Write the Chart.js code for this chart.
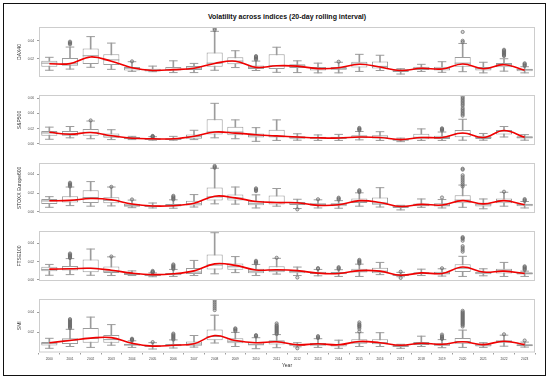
<!DOCTYPE html>
<html>
<head>
<meta charset="utf-8">
<script src="https://cdn.jsdelivr.net/npm/chart.js@4.4.1/dist/chart.umd.min.js"></script>
<style>
  html,body{margin:0;padding:0;background:#fff;}
  #wrap{position:relative;width:550px;height:381px;overflow:hidden;background:#fff;font-family:"Liberation Sans",Arial,sans-serif;}
  #frame{position:absolute;left:3px;top:3px;width:543px;height:373px;box-sizing:border-box;border:1.5px solid #111;}
  #title{position:absolute;left:39px;top:12.5px;width:496px;text-align:center;font-weight:bold;font-size:7px;line-height:8px;color:#111;}
  canvas{position:absolute;left:0;}
</style>
</head>
<body>
<div id="wrap">
  <div id="frame"></div>
  <div id="title">Volatility across indices (20-day rolling interval)</div>
  <canvas id="c0" width="545" height="68" style="top:18px"></canvas>
  <canvas id="c1" width="545" height="68" style="top:86px"></canvas>
  <canvas id="c2" width="545" height="68" style="top:154px"></canvas>
  <canvas id="c3" width="545" height="68" style="top:222px"></canvas>
  <canvas id="c4" width="545" height="83" style="top:290px"></canvas>
</div>
<script>
const years = ['2000','2001','2002','2003','2004','2005','2006','2007','2008','2009','2010','2011','2012','2013','2014','2015','2016','2017','2018','2019','2020','2021','2022','2023'];

// ---- DAX40 ----
const daxLow  = [0.0072,0.0085,0.0105,0.0082,0.0060,0.0056,0.0046,0.0046,0.0072,0.0102,0.0069,0.0049,0.0046,0.0043,0.0043,0.0059,0.0069,0.0030,0.0059,0.0049,0.0056,0.0043,0.0062,0.0043];
const daxQ1   = [0.0111,0.0121,0.0141,0.0131,0.0069,0.0059,0.0069,0.0075,0.0111,0.0138,0.0085,0.0085,0.0098,0.0069,0.0079,0.0102,0.0092,0.0052,0.0075,0.0069,0.0111,0.0069,0.0105,0.0062];
const daxMed  = [0.0151,0.0144,0.0233,0.0187,0.0095,0.0072,0.0082,0.0095,0.0151,0.0174,0.0105,0.0121,0.0121,0.0089,0.0089,0.0141,0.0115,0.0066,0.0095,0.0089,0.0151,0.0089,0.0138,0.0079];
const daxQ3   = [0.0177,0.0207,0.0315,0.0249,0.0108,0.0089,0.0108,0.0118,0.0269,0.0216,0.0125,0.0249,0.0138,0.0108,0.0108,0.0167,0.0170,0.0082,0.0111,0.0111,0.0220,0.0108,0.0154,0.0089];
const daxHigh = [0.0216,0.0330,0.0446,0.0374,0.0167,0.0118,0.0177,0.0148,0.0505,0.0289,0.0174,0.0328,0.0177,0.0151,0.0161,0.0249,0.0239,0.0089,0.0138,0.0167,0.0370,0.0161,0.0200,0.0111];
const daxSmooth = [0.0144,0.0146,0.0220,0.0172,0.0100,0.0070,0.0079,0.0095,0.0148,0.0173,0.0104,0.0122,0.0118,0.0090,0.0100,0.0138,0.0108,0.0069,0.0094,0.0086,0.0141,0.0089,0.0134,0.0072];
const daxOut = [['2001',0.036],['2001',0.037],['2001',0.038],['2001',0.039],['2004',0.0171],['2008',0.052],['2008',0.0535],
  ['2010',0.019],['2010',0.020],['2010',0.021],['2010',0.022],['2010',0.023],['2014',0.0167],
  ['2020',0.0498],['2020',0.0400],['2020',0.0385],
  ['2022',0.023],['2022',0.024],['2022',0.025],['2022',0.026],['2022',0.027],['2022',0.028],['2022',0.029],['2022',0.030],
  ['2023',0.012],['2023',0.013],['2023',0.014],['2023',0.015]];
const daxTicks = [0.02,0.04];

// ---- S&P500 ----
const spLow  = [0.0061,0.0080,0.0068,0.0057,0.0057,0.0049,0.0049,0.0057,0.0080,0.0068,0.0034,0.0046,0.0049,0.0046,0.0046,0.0053,0.0046,0.0030,0.0046,0.0046,0.0049,0.0049,0.0091,0.0049];
const spQ1   = [0.0106,0.0106,0.0106,0.0080,0.0061,0.0053,0.0053,0.0068,0.0122,0.0114,0.0084,0.0084,0.0068,0.0068,0.0065,0.0076,0.0072,0.0042,0.0061,0.0065,0.0087,0.0065,0.0125,0.0072];
const spMed  = [0.0144,0.0133,0.0152,0.0106,0.0072,0.0065,0.0061,0.0095,0.0156,0.0156,0.0106,0.0103,0.0087,0.0076,0.0080,0.0091,0.0087,0.0053,0.0087,0.0084,0.0137,0.0084,0.0167,0.0087];
const spQ3   = [0.0171,0.0171,0.0194,0.0137,0.0091,0.0076,0.0076,0.0125,0.0323,0.0224,0.0137,0.0186,0.0099,0.0095,0.0095,0.0114,0.0114,0.0068,0.0133,0.0106,0.0182,0.0106,0.0182,0.0099];
const spHigh = [0.0220,0.0228,0.0300,0.0186,0.0099,0.0095,0.0099,0.0179,0.0532,0.0315,0.0213,0.0315,0.0133,0.0118,0.0125,0.0163,0.0160,0.0076,0.0197,0.0156,0.0323,0.0137,0.0228,0.0122];
const spSmooth = [0.0152,0.0126,0.0150,0.0108,0.0074,0.0067,0.0067,0.0100,0.0156,0.0142,0.0121,0.0105,0.0091,0.0080,0.0077,0.0091,0.0084,0.0057,0.0084,0.0084,0.0144,0.0084,0.0175,0.0087];
const spOut = [['2002',0.0308],['2005',0.0090],['2005',0.0095],['2005',0.0100],['2005',0.0105],
  ['2015',0.018],['2015',0.019],['2015',0.020],['2015',0.021],
  ['2019',0.0175],['2019',0.0185],['2019',0.0195],['2019',0.0205],
  ['2020',0.037],['2020',0.039],['2020',0.041],['2020',0.043],['2020',0.045],['2020',0.047],['2020',0.050],['2020',0.052],['2020',0.054],['2020',0.056],['2020',0.058],['2020',0.060],['2020',0.062]];
const spTicks = [0.00,0.02,0.04,0.06];

// ---- STOXX Europe600 ----
const sxLow  = [0.0047,0.0065,0.0059,0.0062,0.0043,0.0040,0.0037,0.0050,0.0084,0.0081,0.0040,0.0059,0.0034,0.0040,0.0037,0.0059,0.0050,0.0019,0.0047,0.0040,0.0047,0.0031,0.0059,0.0040];
const sxQ1   = [0.0081,0.0099,0.0093,0.0090,0.0053,0.0050,0.0056,0.0065,0.0121,0.0121,0.0068,0.0078,0.0071,0.0065,0.0059,0.0093,0.0074,0.0040,0.0059,0.0056,0.0090,0.0056,0.0090,0.0059];
const sxMed  = [0.0115,0.0121,0.0152,0.0121,0.0068,0.0056,0.0068,0.0084,0.0158,0.0146,0.0090,0.0099,0.0093,0.0074,0.0078,0.0112,0.0093,0.0053,0.0071,0.0068,0.0124,0.0074,0.0118,0.0074];
const sxQ3   = [0.0136,0.0164,0.0229,0.0155,0.0084,0.0068,0.0081,0.0118,0.0260,0.0183,0.0118,0.0174,0.0105,0.0090,0.0090,0.0140,0.0152,0.0065,0.0087,0.0090,0.0177,0.0090,0.0140,0.0084];
const sxHigh = [0.0161,0.0264,0.0322,0.0264,0.0124,0.0093,0.0127,0.0183,0.0465,0.0264,0.0180,0.0248,0.0133,0.0127,0.0118,0.0202,0.0257,0.0068,0.0136,0.0130,0.0285,0.0136,0.0208,0.0109];
const sxSmooth = [0.0117,0.0121,0.0141,0.0128,0.0082,0.0061,0.0064,0.0090,0.0166,0.0148,0.0109,0.0098,0.0096,0.0068,0.0074,0.0118,0.0099,0.0056,0.0078,0.0071,0.0118,0.0084,0.0118,0.0074];
const sxOut = [['2001',0.027],['2001',0.028],['2001',0.029],['2001',0.030],['2001',0.031],['2003',0.0266],['2004',0.0131],
  ['2006',0.013],['2006',0.014],['2006',0.015],['2006',0.016],['2006',0.017],
  ['2008',0.047],['2008',0.048],['2008',0.049],
  ['2010',0.022],['2010',0.023],['2010',0.024],['2010',0.025],['2012',0.0025],['2013',0.0133],
  ['2014',0.013],['2014',0.014],['2014',0.015],['2015',0.021],['2015',0.022],['2015',0.023],['2019',0.0152],
  ['2020',0.045],['2020',0.046],['2020',0.027],['2020',0.029],['2020',0.031],['2020',0.033],['2020',0.035],['2020',0.037],['2020',0.039],
  ['2022',0.0214],['2023',0.0115],['2023',0.0125],['2023',0.0135]];
const sxTicks = [0.00,0.02,0.04];

// ---- FTSE100 ----
const ftLow  = [0.0051,0.0058,0.0051,0.0048,0.0048,0.0035,0.0038,0.0048,0.0067,0.0080,0.0048,0.0064,0.0048,0.0045,0.0038,0.0038,0.0058,0.0035,0.0048,0.0042,0.0038,0.0045,0.0038,0.0038];
const ftQ1   = [0.0096,0.0102,0.0083,0.0077,0.0054,0.0042,0.0051,0.0064,0.0115,0.0112,0.0074,0.0083,0.0074,0.0064,0.0061,0.0080,0.0074,0.0042,0.0061,0.0058,0.0086,0.0061,0.0070,0.0058];
const ftMed  = [0.0115,0.0122,0.0128,0.0096,0.0064,0.0048,0.0064,0.0086,0.0163,0.0144,0.0096,0.0102,0.0093,0.0074,0.0074,0.0096,0.0096,0.0051,0.0070,0.0074,0.0128,0.0077,0.0099,0.0070];
const ftQ3   = [0.0144,0.0154,0.0224,0.0147,0.0077,0.0054,0.0077,0.0131,0.0278,0.0179,0.0122,0.0150,0.0102,0.0090,0.0086,0.0122,0.0134,0.0064,0.0083,0.0090,0.0173,0.0090,0.0122,0.0083];
const ftHigh = [0.0170,0.0234,0.0339,0.0253,0.0099,0.0077,0.0115,0.0214,0.0518,0.0256,0.0170,0.0237,0.0141,0.0115,0.0112,0.0173,0.0192,0.0083,0.0118,0.0122,0.0259,0.0122,0.0192,0.0096];
const ftSmooth = [0.0118,0.0122,0.0128,0.0106,0.0074,0.0058,0.0067,0.0099,0.0176,0.0160,0.0109,0.0112,0.0102,0.0074,0.0070,0.0102,0.0096,0.0051,0.0077,0.0070,0.0141,0.0086,0.0096,0.0070];
const ftOut = [['2001',0.024],['2001',0.025],['2001',0.026],['2001',0.027],['2001',0.028],['2001',0.029],['2003',0.0257],
  ['2005',0.0080],['2005',0.0085],['2005',0.0090],['2005',0.0099],
  ['2006',0.012],['2006',0.013],['2006',0.014],['2006',0.015],['2006',0.016],['2006',0.017],
  ['2010',0.018],['2010',0.019],['2010',0.020],['2010',0.021],['2011',0.0243],['2012',0.0026],
  ['2013',0.012],['2013',0.013],['2014',0.012],['2014',0.013],['2014',0.014],
  ['2015',0.018],['2015',0.019],['2015',0.020],['2015',0.021],['2015',0.022],['2017',0.0090],['2017',0.0022],['2019',0.0128],
  ['2020',0.043],['2020',0.045],['2020',0.046],['2020',0.047],['2020',0.031],['2020',0.033],['2020',0.035],['2020',0.037],
  ['2023',0.011],['2023',0.012],['2023',0.013],['2023',0.014],['2023',0.015]];
const ftTicks = [0.00,0.02,0.04];

// ---- SMI ----
const smLow  = [0.0038,0.0056,0.0047,0.0069,0.0047,0.0031,0.0041,0.0050,0.0091,0.0056,0.0034,0.0044,0.0053,0.0047,0.0038,0.0056,0.0056,0.0038,0.0056,0.0044,0.0047,0.0047,0.0059,0.0050];
const smQ1   = [0.0066,0.0081,0.0094,0.0094,0.0063,0.0050,0.0059,0.0063,0.0119,0.0088,0.0066,0.0075,0.0063,0.0063,0.0056,0.0084,0.0078,0.0050,0.0072,0.0063,0.0084,0.0056,0.0094,0.0059];
const smMed  = [0.0088,0.0119,0.0138,0.0125,0.0075,0.0056,0.0069,0.0081,0.0156,0.0109,0.0078,0.0103,0.0072,0.0078,0.0072,0.0100,0.0094,0.0059,0.0088,0.0072,0.0106,0.0069,0.0106,0.0069];
const smQ3   = [0.0100,0.0138,0.0240,0.0172,0.0084,0.0069,0.0081,0.0106,0.0225,0.0138,0.0100,0.0119,0.0081,0.0091,0.0081,0.0128,0.0128,0.0072,0.0100,0.0088,0.0141,0.0084,0.0119,0.0078];
const smHigh = [0.0138,0.0228,0.0350,0.0275,0.0113,0.0094,0.0122,0.0166,0.0369,0.0197,0.0144,0.0175,0.0094,0.0134,0.0119,0.0194,0.0194,0.0078,0.0159,0.0125,0.0220,0.0094,0.0169,0.0100];
const smSmooth = [0.0094,0.0116,0.0140,0.0145,0.0088,0.0060,0.0069,0.0084,0.0166,0.0116,0.0094,0.0103,0.0073,0.0083,0.0073,0.0106,0.0094,0.0069,0.0088,0.0078,0.0103,0.0075,0.0109,0.0075];
const smOut = [['2001',0.024],['2001',0.025],['2001',0.026],['2001',0.027],['2001',0.028],['2001',0.029],['2001',0.030],['2001',0.031],['2001',0.032],['2001',0.033],
  ['2004',0.0116],['2004',0.0122],['2004',0.0128],['2004',0.0134],['2005',0.0100],
  ['2006',0.0125],['2006',0.0135],['2006',0.0145],['2006',0.0155],['2006',0.0165],['2006',0.0175],['2006',0.0185],
  ['2008',0.042],['2008',0.044],['2008',0.046],['2008',0.048],['2008',0.050],['2008',0.052],
  ['2009',0.021],['2009',0.022],['2009',0.023],['2009',0.0238],['2010',0.0156],['2010',0.0163],['2010',0.0170],
  ['2011',0.018],['2011',0.019],['2011',0.020],['2011',0.021],['2011',0.022],['2011',0.023],['2011',0.024],['2011',0.025],['2011',0.026],['2011',0.027],['2011',0.0287],
  ['2012',0.0038],['2013',0.014],['2013',0.015],['2013',0.016],
  ['2015',0.0206],['2015',0.0234],['2015',0.025],['2015',0.026],['2015',0.027],['2015',0.028],['2015',0.0297],
  ['2019',0.0131],['2019',0.014],['2019',0.015],['2019',0.016],['2019',0.0175],
  ['2020',0.0256],['2020',0.027],['2020',0.028],['2020',0.029],['2020',0.030],['2020',0.031],['2020',0.032],['2020',0.033],['2020',0.034],['2020',0.035],['2020',0.036],['2020',0.037],['2020',0.038],['2020',0.039],['2020',0.040],['2020',0.0413],
  ['2022',0.0178],['2023',0.0116]];
const smTicks = [0.02,0.04];

const panels = [
  {id:'c0', name:'DAX40', low:daxLow, q1:daxQ1, med:daxMed, q3:daxQ3, high:daxHigh, smooth:daxSmooth, out:daxOut, ticks:daxTicks, min:-0.0003, max:0.0553},
  {id:'c1', name:'S&P500', low:spLow, q1:spQ1, med:spMed, q3:spQ3, high:spHigh, smooth:spSmooth, out:spOut, ticks:spTicks, min:-0.0014, max:0.0641},
  {id:'c2', name:'STOXX Europe600', low:sxLow, q1:sxQ1, med:sxMed, q3:sxQ3, high:sxHigh, smooth:sxSmooth, out:sxOut, ticks:sxTicks, min:-0.0014, max:0.0521},
  {id:'c3', name:'FTSE100', low:ftLow, q1:ftQ1, med:ftMed, q3:ftQ3, high:ftHigh, smooth:ftSmooth, out:ftOut, ticks:ftTicks, min:-0.0012, max:0.0537},
  {id:'c4', name:'SMI', low:smLow, q1:smQ1, med:smMed, q3:smQ3, high:smHigh, smooth:smSmooth, out:smOut, ticks:smTicks, min:-0.0004, max:0.0531}
];

const FONT = '"Liberation Sans", Arial, sans-serif';
const GRAY = '#9c9c9c';

const framePlugin = {
  id: 'frame',
  afterDatasetsDraw(chart) {
    const {ctx, chartArea: a} = chart;
    ctx.save();
    ctx.strokeStyle = '#cdcdcd';
    ctx.lineWidth = 1;
    ctx.strokeRect(a.left + 0.5, a.top + 0.5, a.right - a.left - 1, a.bottom - a.top - 1);
    ctx.restore();
  }
};

panels.forEach((p, idx) => {
  const bottom = idx === panels.length - 1;
  const datasets = [
    {type:'line', data:p.smooth, borderColor:'#f00000', borderWidth:1.6, pointRadius:0, tension:0.4, order:0},
    {type:'line', data:p.out.map(([x,y]) => ({x, y})), showLine:false, pointStyle:'circle', pointRadius:1.6,
      pointBorderColor:'#666666', pointBackgroundColor:'rgba(120,120,120,0.3)', pointBorderWidth:0.7, order:1},
    {type:'line', data:p.med, showLine:false, pointStyle:'line', pointRadius:8, pointBorderColor:GRAY, pointBorderWidth:1, order:2},
    {type:'line', data:p.high, showLine:false, pointStyle:'line', pointRadius:4.3, pointBorderColor:GRAY, pointBorderWidth:1, order:2},
    {type:'line', data:p.low, showLine:false, pointStyle:'line', pointRadius:4.3, pointBorderColor:GRAY, pointBorderWidth:1, order:2},
    {type:'bar', data:p.q1.map((v,i) => [v, p.q3[i]]), backgroundColor:'#ffffff', borderColor:GRAY, borderWidth:1,
      borderSkipped:false, grouped:false, barPercentage:0.78, categoryPercentage:1, order:3},
    {type:'bar', data:p.low.map((v,i) => [v, p.high[i]]), backgroundColor:GRAY, barThickness:1, grouped:false, order:4}
  ];
  new Chart(document.getElementById(p.id), {
    type: 'bar',
    data: {labels: years, datasets},
    plugins: [framePlugin],
    options: {
      responsive: false,
      animation: false,
      events: [],
      layout: {padding: {top:5, bottom: bottom ? 0 : 5.5, left:0, right:10}},
      plugins: {legend:{display:false}, tooltip:{enabled:false}, title:{display:false}},
      scales: {
        x: {
          type:'category', offset:true, display: bottom,
          grid: {display:true, drawOnChartArea:false, drawTicks:true, tickLength:2, color:GRAY},
          border: {display:false},
          ticks: {font:{size:3.2, family:FONT}, color:'#444', padding:3, autoSkip:false, maxRotation:0},
          title: {display: bottom, text:'Year', font:{size:5, family:FONT}, color:'#333', padding:{top:0, bottom:4}},
          afterFit: (s) => { s.height = bottom ? 20.5 : 0; }
        },
        y: {
          type:'linear', min:p.min, max:p.max,
          afterBuildTicks: (s) => { s.ticks = p.ticks.map(v => ({value:v})); },
          grid: {display:true, drawOnChartArea:false, drawTicks:true, tickLength:2, color:GRAY},
          border: {display:false},
          ticks: {font:{size:3.2, family:FONT}, color:'#444', padding:3, callback: (v) => Number(v).toFixed(2)},
          title: {display:true, text:p.name, font:{size:5, family:FONT}, color:'#333', padding:{top:17, bottom:0}},
          afterFit: (s) => { s.width = 39; }
        }
      }
    }
  });
});
</script>
</body>
</html>
